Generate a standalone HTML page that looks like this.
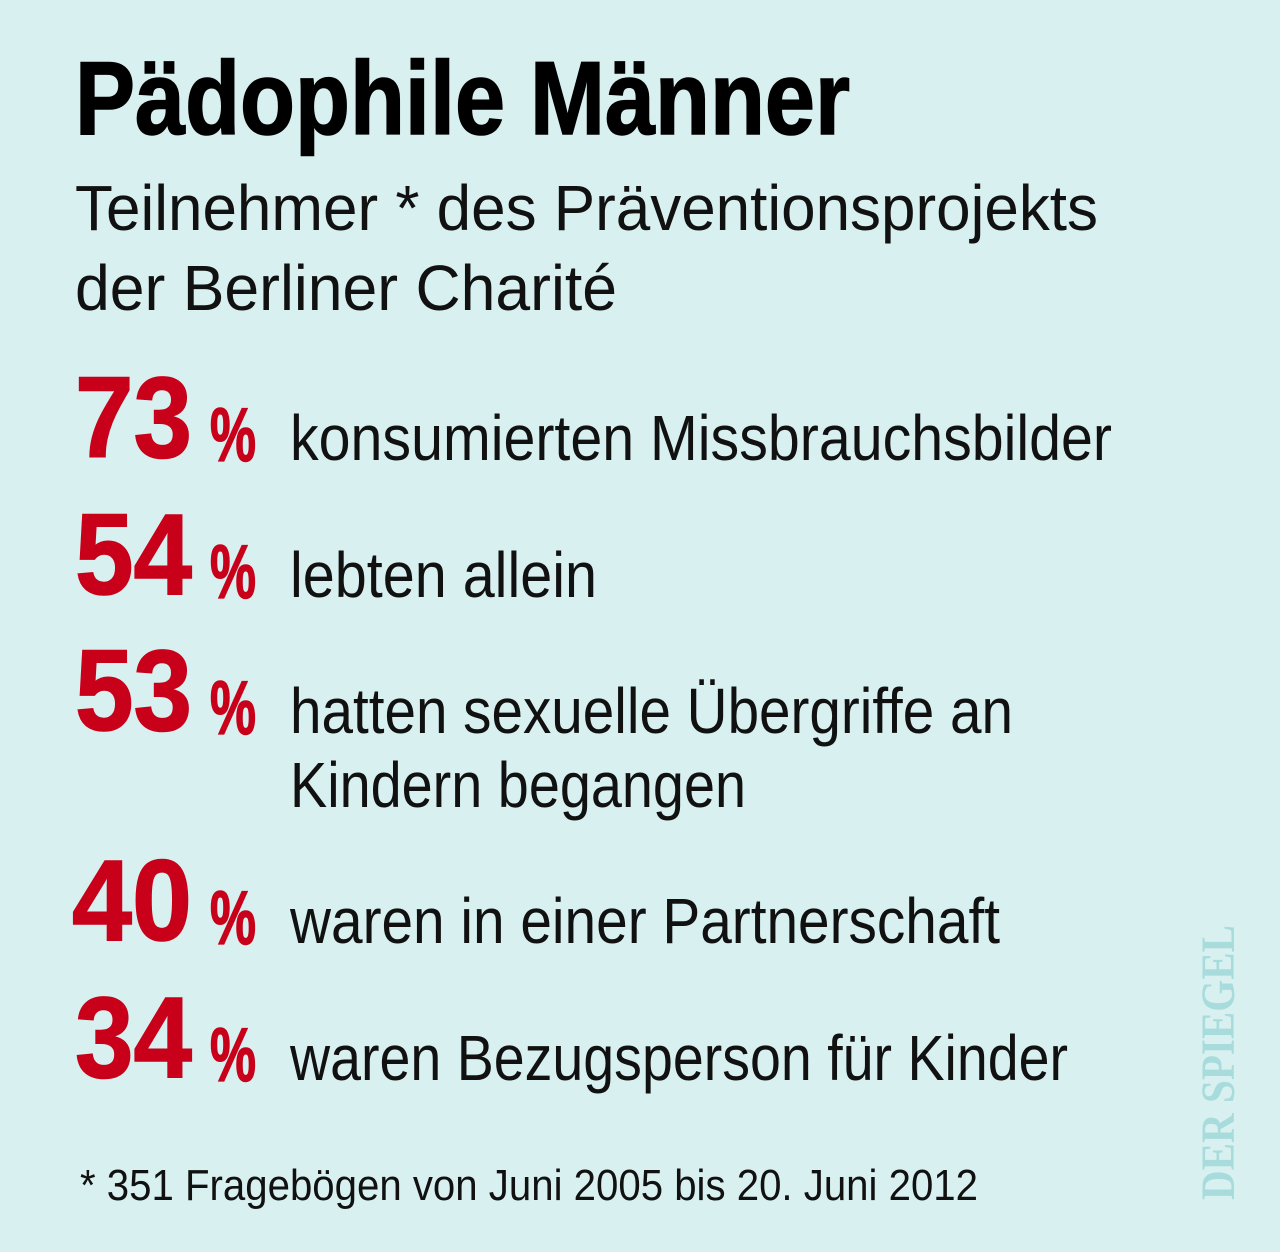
<!DOCTYPE html>
<html><head><meta charset="utf-8"><style>
html,body{margin:0;padding:0;background:#d8f0f0;}
svg{display:block}
</style></head><body>
<svg width="1280" height="1252" viewBox="0 0 1280 1252" xmlns="http://www.w3.org/2000/svg">
<rect width="1280" height="1252" fill="#d8f0f0"/>
<g font-family="'Liberation Sans', sans-serif">
<text x="75" y="134" font-size="104" font-weight="bold" fill="#000" stroke="#000" stroke-width="1.5" textLength="775" lengthAdjust="spacingAndGlyphs">Pädophile Männer</text>
<text x="75" y="230" font-size="64" fill="#111" textLength="1023" lengthAdjust="spacingAndGlyphs">Teilnehmer * des Präventionsprojekts</text>
<text x="75" y="310" font-size="64" fill="#111" textLength="542" lengthAdjust="spacingAndGlyphs">der Berliner Charité</text>

<g fill="#c8001a" stroke="#c8001a" stroke-width="1.5" font-weight="bold">
<text x="75" y="457" font-size="115" textLength="117" lengthAdjust="spacingAndGlyphs">73</text>
<text x="210" y="461" font-size="76" textLength="46" lengthAdjust="spacingAndGlyphs">%</text>
<text x="75" y="594" font-size="115" textLength="117" lengthAdjust="spacingAndGlyphs">54</text>
<text x="210" y="598" font-size="76" textLength="46" lengthAdjust="spacingAndGlyphs">%</text>
<text x="75" y="730" font-size="115" textLength="117" lengthAdjust="spacingAndGlyphs">53</text>
<text x="210" y="734" font-size="76" textLength="46" lengthAdjust="spacingAndGlyphs">%</text>
<text x="72" y="940" font-size="115" textLength="120" lengthAdjust="spacingAndGlyphs">40</text>
<text x="210" y="944" font-size="76" textLength="46" lengthAdjust="spacingAndGlyphs">%</text>
<text x="75" y="1077" font-size="115" textLength="117" lengthAdjust="spacingAndGlyphs">34</text>
<text x="210" y="1081" font-size="76" textLength="46" lengthAdjust="spacingAndGlyphs">%</text>
</g>

<g fill="#111" font-size="64">
<text x="290" y="460" textLength="822" lengthAdjust="spacingAndGlyphs">konsumierten Missbrauchsbilder</text>
<text x="290" y="597" textLength="307" lengthAdjust="spacingAndGlyphs">lebten allein</text>
<text x="290" y="733" textLength="723" lengthAdjust="spacingAndGlyphs">hatten sexuelle Übergriffe an</text>
<text x="290" y="807" textLength="456" lengthAdjust="spacingAndGlyphs">Kindern begangen</text>
<text x="290" y="943" textLength="710" lengthAdjust="spacingAndGlyphs">waren in einer Partnerschaft</text>
<text x="290" y="1080" textLength="778" lengthAdjust="spacingAndGlyphs">waren Bezugsperson für Kinder</text>
</g>

<text x="80" y="1200" font-size="44" fill="#111" textLength="898" lengthAdjust="spacingAndGlyphs">* 351 Fragebögen von Juni 2005 bis 20. Juni 2012</text>

<text transform="translate(1234,1200) rotate(-90)" font-family="'Liberation Serif', serif" font-weight="bold" font-size="48" fill="#a8dcdc" textLength="275" lengthAdjust="spacingAndGlyphs">DER SPIEGEL</text>
</g>
</svg>
</body></html>
